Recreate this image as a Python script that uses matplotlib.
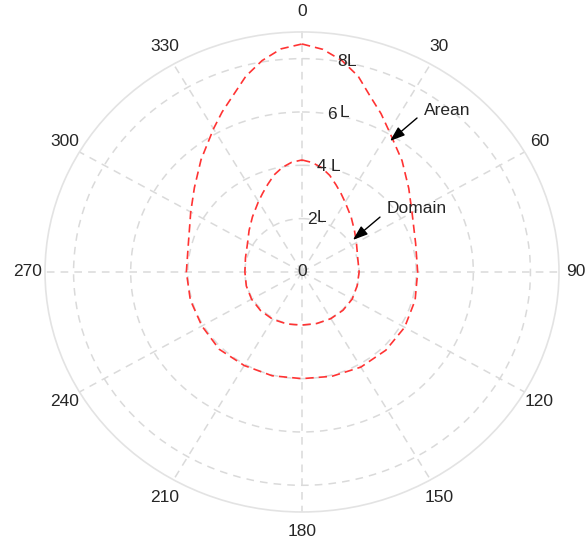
import numpy as np
import matplotlib.pyplot as plt

plt.rcParams['font.family'] = ['Liberation Sans', 'DejaVu Sans']

# compass angles (deg, clockwise from top) and radii, in units of L
angles = [0, 5, 10, 15, 20, 25, 30, 40, 50, 60, 75, 90, 105, 120, 135, 150, 165,
          180, 195, 210, 225, 240, 255, 270, 285, 300, 310, 320, 330, 335, 340, 345, 350, 355, 360]
arean = [8.55, 8.38, 8.05, 7.6, 7.0, 6.55, 6.1, 5.45, 4.88, 4.45, 4.12, 4.05, 4.1, 4.15, 4.15, 4.12, 4.05,
         4.0, 4.03, 4.05, 4.1, 4.05, 4.05, 4.05, 4.12, 4.5, 4.92, 5.5, 6.2, 6.62, 7.05, 7.6, 8.05, 8.4, 8.55]
domain = [4.2, 4.12, 3.97, 3.75, 3.48, 3.24, 3.02, 2.68, 2.4, 2.2, 2.02, 2.0, 2.0, 2.03, 2.03, 2.02, 2.0,
          1.99, 2.02, 2.05, 2.05, 2.04, 2.02, 2.0, 2.05, 2.2, 2.42, 2.7, 3.05, 3.26, 3.5, 3.77, 3.98, 4.13, 4.2]

theta_ticks = list(range(0, 360, 30))
r_ticks = [0, 2, 4, 6, 8]
r_max = 9

text_col = '#262626'
grid_col = '#dadada'

fig = plt.figure(figsize=(5.87, 5.42), dpi=100)
ax = fig.add_axes([0.0767, 0.0554, 0.8756, 0.8856], projection='polar')
ax.set_aspect('auto')
ax.set_theta_zero_location('N')
ax.set_theta_direction(-1)
ax.set_ylim(0, r_max)

ax.set_xticks(np.deg2rad(theta_ticks))
ax.set_xticklabels([])
ax.set_yticks(r_ticks[1:])
ax.set_yticklabels([])
ax.grid(True, color=grid_col, linestyle=(0, (5, 4)), linewidth=1.1)
ax.spines['polar'].set_color('#e3e3e3')
ax.spines['polar'].set_linewidth(1.2)
ax.tick_params(length=0)

# angle labels just outside the rim
for t in theta_ticks:
    a = np.deg2rad(t)
    ax.annotate(str(t), xy=(a, r_max), xytext=(17 * np.sin(a), 20 * np.cos(a)),
                textcoords='offset pixels', ha='center', va='center',
                fontsize=12.5, color=text_col, annotation_clip=False)

# radial labels, digit plus a separate "L"
l_offsets = [None, (10, 2), (14, 0), (13, 2), (10, 0)]
for r, off in zip(r_ticks, l_offsets):
    pos = (np.deg2rad(10), r) if r else (0, 0)
    ax.text(*pos, str(r), ha='center', va='center', fontsize=12.5, color=text_col)
    if off:
        ax.annotate('L', xy=pos, xytext=off, textcoords='offset pixels',
                    ha='center', va='center', fontsize=12.5, color=text_col)

th = np.deg2rad(angles)
ax.plot(th, arean, color='#ff3333', linestyle=(0, (5, 3)), linewidth=1.2)
ax.plot(th, domain, color='#ff3333', linestyle=(0, (5, 3)), linewidth=1.2)

arrow = dict(arrowstyle='-|>,head_length=0.9,head_width=0.32', color='black', lw=1.0,
             shrinkA=0, shrinkB=0)
ax.annotate('', xy=(np.deg2rad(32.1), 5.8), xytext=(np.deg2rad(34.9), 7.04), arrowprops=arrow)
ax.text(np.deg2rad(35.3), 7.4, 'Arean', ha='left', va='center', fontsize=12.5, color=text_col)
ax.annotate('', xy=(np.deg2rad(56), 2.15), xytext=(np.deg2rad(53), 3.42), arrowprops=arrow)
ax.text(np.deg2rad(51.1), 3.82, 'Domain', ha='left', va='center', fontsize=12.5, color=text_col)

fig.savefig('out.png', dpi=100)
